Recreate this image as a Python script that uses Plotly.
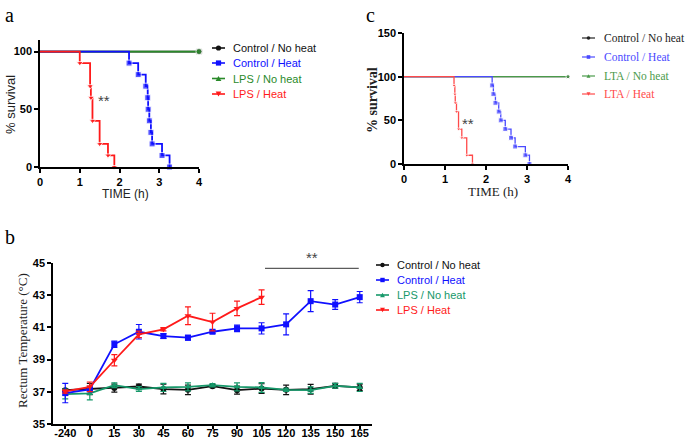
import plotly.graph_objects as go

W, H = 685, 440

# ---- panel a : survival, LPS ----
a_ctrl_noheat_t = [0, 4]
a_ctrl_noheat_s = [100, 100]
a_lps_noheat_t = [0, 4]
a_lps_noheat_s = [100, 100]
a_ctrl_heat_t = [0, 2.24, 2.47, 2.66, 2.71, 2.72, 2.75, 2.79, 2.82, 3.07, 3.26]
a_ctrl_heat_s = [100, 90, 80, 70, 60, 50, 40, 30, 20, 10, 0]
a_lps_heat_t = [0, 1.0, 1.26, 1.28, 1.32, 1.50, 1.71, 1.87]
a_lps_heat_s = [100, 90, 70, 60, 40, 20, 10, 0]

# ---- panel c : survival, LTA ----
c_ctrl_noheat_t = [0, 4]
c_ctrl_noheat_s = [100, 100]
c_lta_noheat_t = [0, 4]
c_lta_noheat_s = [100, 100]
c_ctrl_heat_t = [0, 2.15, 2.18, 2.23, 2.31, 2.36, 2.47, 2.61, 2.71, 2.96, 3.06]
c_ctrl_heat_s = [100, 90, 80, 70, 60, 50, 40, 30, 20, 10, 0]
c_lta_heat_t = [0, 1.22, 1.24, 1.25, 1.28, 1.33, 1.41, 1.53, 1.67]
c_lta_heat_s = [100, 90, 80, 70, 60, 40, 30, 10, 0]

# ---- panel b : rectal temperature ----
times = [-240, 0, 15, 30, 45, 60, 75, 90, 105, 120, 135, 150, 165]
b_ctrl_noheat = [37.1, 37.17, 37.23, 37.33, 37.17, 37.12, 37.35, 37.1, 37.2, 37.12, 37.16, 37.37, 37.27]
b_ctrl_noheat_err = [0.1, 0.35, 0.25, 0.15, 0.3, 0.3, 0.1, 0.25, 0.3, 0.3, 0.3, 0.15, 0.2]
b_ctrl_heat = [36.92, 37.15, 39.95, 40.73, 40.46, 40.36, 40.73, 40.94, 40.94, 41.19, 42.63, 42.42, 42.88]
b_ctrl_heat_err = [0.6, 0.1, 0.2, 0.45, 0.15, 0.15, 0.1, 0.2, 0.35, 0.65, 0.65, 0.3, 0.35]
b_lps_noheat = [36.86, 36.9, 37.41, 37.17, 37.27, 37.31, 37.41, 37.31, 37.27, 37.12, 37.1, 37.37, 37.27]
b_lps_noheat_err = [0.3, 0.4, 0.15, 0.15, 0.25, 0.25, 0.1, 0.25, 0.3, 0.1, 0.2, 0.15, 0.25]
b_lps_heat = [37.02, 37.31, 38.96, 40.57, 40.88, 41.72, 41.33, 42.18, 42.88]
b_lps_heat_err = [0.1, 0.3, 0.35, 0.2, 0.1, 0.55, 0.55, 0.45, 0.45]

BLACK = "#111111"
BLUE = "#1010ff"
GREEN_A = "#2a8a2a"
RED = "#ff1a1a"
GREEN_B = "#16986a"
C_BLUE = "#4a4aff"
C_RED = "#ff4a4a"
C_GREEN = "#4a9a4a"

SANS = "Liberation Sans, Arial, sans-serif"
SERIF = "Liberation Serif, Times New Roman, serif"


def px_x(p):
    return p / W


def px_y(p):
    return 1 - p / H


def step_trace(t, s, color, symbol, size, xa, ya, width=1.8):
    sizes = [size] * len(t)
    sizes[0] = 0
    return go.Scatter(
        x=t, y=s, mode="lines+markers", line_shape="hv",
        line=dict(color=color, width=width),
        marker=dict(symbol=symbol, size=sizes, color=color),
        xaxis=xa, yaxis=ya, cliponaxis=False, showlegend=False,
    )


fig = go.Figure()

# panel a (draw order: black, green, blue, red on top)
fig.add_trace(step_trace(a_ctrl_noheat_t, a_ctrl_noheat_s, BLACK, "circle", 7, "x", "y"))
fig.add_trace(step_trace(a_lps_noheat_t, a_lps_noheat_s, GREEN_A, "circle", 6, "x", "y"))
fig.add_trace(step_trace(a_ctrl_heat_t, a_ctrl_heat_s, BLUE, "square", 6, "x", "y"))
fig.add_trace(step_trace(a_lps_heat_t, a_lps_heat_s, RED, "triangle-down", 6, "x", "y"))

# panel c
fig.add_trace(step_trace(c_ctrl_noheat_t, c_ctrl_noheat_s, "#222222", "circle", 4, "x3", "y3", width=1.3))
fig.add_trace(step_trace(c_lta_noheat_t, c_lta_noheat_s, C_GREEN, "circle", 4, "x3", "y3", width=1.3))
fig.add_trace(step_trace(c_ctrl_heat_t, c_ctrl_heat_s, C_BLUE, "square", 5, "x3", "y3", width=1.3))
fig.add_trace(step_trace(c_lta_heat_t, c_lta_heat_s, C_RED, "triangle-down", 4, "x3", "y3", width=1.3))

# panel b
xb = list(range(len(times)))
b_series = [
    (b_ctrl_noheat, b_ctrl_noheat_err, BLACK, "circle"),
    (b_lps_noheat, b_lps_noheat_err, GREEN_B, "triangle-up"),
    (b_ctrl_heat, b_ctrl_heat_err, BLUE, "square"),
    (b_lps_heat, b_lps_heat_err, RED, "triangle-down"),
]
for vals, errs, color, sym in b_series:
    fig.add_trace(go.Scatter(
        x=xb[:len(vals)], y=vals, mode="lines+markers",
        line=dict(color=color, width=1.8),
        marker=dict(symbol=sym, size=6, color=color),
        error_y=dict(type="data", array=errs, visible=True, color=color, thickness=1.2, width=3),
        xaxis="x2", yaxis="y2", cliponaxis=False, showlegend=False,
    ))

axis_common = dict(
    showline=True, linecolor="black", linewidth=1.5, ticks="outside", ticklen=4,
    tickwidth=1.5, tickcolor="black", showgrid=False, zeroline=False, automargin=False,
    tickfont=dict(family=SANS, size=11, color="black", weight="bold"),
)

fig.update_layout(
    width=W, height=H, margin=dict(l=0, r=0, t=0, b=0),
    paper_bgcolor="white", plot_bgcolor="white", showlegend=False,
    xaxis=dict(axis_common, domain=[px_x(40), px_x(199)], range=[0, 4], tickvals=[0, 1, 2, 3, 4], anchor="y"),
    yaxis=dict(axis_common, domain=[px_y(167), px_y(40)], range=[0, 110], tickvals=[0, 50, 100], anchor="x"),
    xaxis2=dict(axis_common, domain=[px_x(53), px_x(372)], range=[-0.5, 12.5], tickvals=xb,
                ticktext=[str(t) for t in times], anchor="y2", ticklen=3, ticklabelstandoff=-5),
    yaxis2=dict(axis_common, domain=[px_y(424), px_y(263)], range=[35, 45],
                tickvals=[35, 37, 39, 41, 43, 45], anchor="x2"),
    xaxis3=dict(axis_common, domain=[px_x(404), px_x(568)], range=[0, 4], tickvals=[0, 1, 2, 3, 4], anchor="y3"),
    yaxis3=dict(axis_common, domain=[px_y(164), px_y(33)], range=[0, 150], tickvals=[0, 50, 100, 150], anchor="x3"),
)


def text_at(x, y, text, family, size, color="#222", angle=0, xanchor="center"):
    fig.add_annotation(x=px_x(x), y=px_y(y), xref="paper", yref="paper", text=text, showarrow=False,
                       textangle=angle, xanchor=xanchor, yanchor="middle",
                       font=dict(family=family, size=size, color=color))


# axis titles
text_at(10, 105, "% survival", SANS, 13, angle=-90)
text_at(125, 194, "TIME (h)", SANS, 12)
text_at(372, 100, "<b>% survival</b>", SERIF, 14, angle=-90)
text_at(493, 191, "TIME (h)", SERIF, 13)
text_at(22, 341, "Rectum Temperature (°C)", SERIF, 13, angle=-90)


# legends, drawn by hand so rows can sit closer than plotly's own legend allows
def marker_shape(cx, cy, symbol, color, r):
    if symbol == "circle":
        fig.add_shape(type="circle", xref="paper", yref="paper", x0=px_x(cx - r), x1=px_x(cx + r),
                      y0=px_y(cy + r), y1=px_y(cy - r), fillcolor=color, line=dict(width=0))
    elif symbol == "square":
        fig.add_shape(type="rect", xref="paper", yref="paper", x0=px_x(cx - r), x1=px_x(cx + r),
                      y0=px_y(cy + r), y1=px_y(cy - r), fillcolor=color, line=dict(width=0))
    else:
        s = -1 if symbol == "triangle-up" else 1
        pts = [(cx - r * 1.1, cy - s * r), (cx + r * 1.1, cy - s * r), (cx, cy + s * r)]
        path = "M " + " L ".join(f"{px_x(px)},{px_y(py)}" for px, py in pts) + " Z"
        fig.add_shape(type="path", xref="paper", yref="paper", path=path, fillcolor=color, line=dict(width=0))


def legend_block(x0, x1, xt, rows, entries, family, size, r, lw=1.6):
    for y, (name, color, sym) in zip(rows, entries):
        fig.add_shape(type="line", xref="paper", yref="paper", x0=px_x(x0), x1=px_x(x1),
                      y0=px_y(y), y1=px_y(y), line=dict(color=color, width=lw))
        marker_shape((x0 + x1) / 2, y, sym, color, r)
        text_at(xt, y, name, family, size, color=color, xanchor="left")


legend_block(212, 225, 231, [48, 63, 78.5, 94],
             [("Control / No heat", BLACK, "circle"), ("Control / Heat", BLUE, "square"),
              ("LPS / No heat", GREEN_A, "triangle-up"), ("LPS / Heat", RED, "triangle-down")],
             SANS, 11, 2.6)
legend_block(376, 389, 395, [265, 280, 295, 310],
             [("Control / No heat", BLACK, "circle"), ("Control / Heat", BLUE, "square"),
              ("LPS / No heat", GREEN_B, "triangle-up"), ("LPS / Heat", RED, "triangle-down")],
             SANS, 11, 2.2)
legend_block(582, 595, 602, [38, 57, 76, 94],
             [("Control / No heat", "#222222", "circle"), ("Control / Heat", C_BLUE, "square"),
              ("LTA / No heat", C_GREEN, "triangle-up"), ("LTA / Heat", C_RED, "triangle-down")],
             SERIF, 11.5, 1.8, lw=1.2)

# significance markers
fig.add_annotation(x=1.6, y=58, xref="x", yref="y", text="**", showarrow=False,
                   font=dict(family=SANS, size=15, color="#444"))
fig.add_annotation(x=1.55, y=46, xref="x3", yref="y3", text="**", showarrow=False,
                   font=dict(family=SANS, size=15, color="#444"))
fig.add_shape(type="line", x0=8.14, x1=11.96, y0=44.67, y1=44.67, xref="x2", yref="y2",
              line=dict(color="#333", width=1))
fig.add_annotation(x=10.05, y=44.67, xref="x2", yref="y2", text="**", showarrow=False, yanchor="bottom",
                   font=dict(family=SANS, size=15, color="#444"))

# panel letters
for letter, x, y in [("a", 3, 2), ("c", 364, 2), ("b", 3, 224)]:
    fig.add_annotation(x=px_x(x), y=px_y(y), xref="paper", yref="paper", text=letter, showarrow=False,
                       xanchor="left", yanchor="top", font=dict(family=SERIF, size=20, color="black"))

# drop the page's default body margin so the figure sits at the window's corner
fig.write_html("out.html", config={"displayModeBar": False},
               post_script="document.body.style.margin='0px';")
